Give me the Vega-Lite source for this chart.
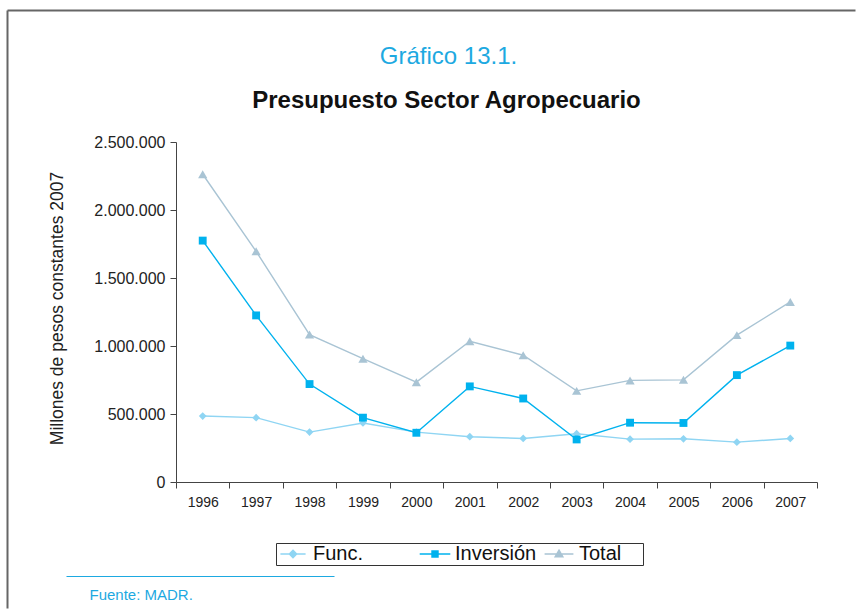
{
  "$schema": "https://vega.github.io/schema/vega-lite/v6.json",
  "width": 641,
  "height": 340,
  "autosize": {"type": "pad"},
  "padding": {"left": 7, "top": 10, "right": 0, "bottom": 0},
  "background": "white",
  "config": {
    "view": {"stroke": null},
    "font": "Liberation Sans",
    "locale": {"number": {"decimal": ",", "thousands": ".", "grouping": [3], "currency": ["$", ""]}}
  },
  "data": {"values": [
    {"year": "1996", "serie": "Func.", "value": 485000},
    {"year": "1997", "serie": "Func.", "value": 473000},
    {"year": "1998", "serie": "Func.", "value": 367000},
    {"year": "1999", "serie": "Func.", "value": 434000},
    {"year": "2000", "serie": "Func.", "value": 367000},
    {"year": "2001", "serie": "Func.", "value": 333000},
    {"year": "2002", "serie": "Func.", "value": 320000},
    {"year": "2003", "serie": "Func.", "value": 355000},
    {"year": "2004", "serie": "Func.", "value": 315000},
    {"year": "2005", "serie": "Func.", "value": 318000},
    {"year": "2006", "serie": "Func.", "value": 293000},
    {"year": "2007", "serie": "Func.", "value": 320000},
    {"year": "1996", "serie": "Inversión", "value": 1775000},
    {"year": "1997", "serie": "Inversión", "value": 1225000},
    {"year": "1998", "serie": "Inversión", "value": 720000},
    {"year": "1999", "serie": "Inversión", "value": 473000},
    {"year": "2000", "serie": "Inversión", "value": 362000},
    {"year": "2001", "serie": "Inversión", "value": 703000},
    {"year": "2002", "serie": "Inversión", "value": 614000},
    {"year": "2003", "serie": "Inversión", "value": 313000},
    {"year": "2004", "serie": "Inversión", "value": 436000},
    {"year": "2005", "serie": "Inversión", "value": 434000},
    {"year": "2006", "serie": "Inversión", "value": 786000},
    {"year": "2007", "serie": "Inversión", "value": 1003000},
    {"year": "1996", "serie": "Total", "value": 2263000},
    {"year": "1997", "serie": "Total", "value": 1696000},
    {"year": "1998", "serie": "Total", "value": 1084000},
    {"year": "1999", "serie": "Total", "value": 907000},
    {"year": "2000", "serie": "Total", "value": 734000},
    {"year": "2001", "serie": "Total", "value": 1035000},
    {"year": "2002", "serie": "Total", "value": 932000},
    {"year": "2003", "serie": "Total", "value": 670000},
    {"year": "2004", "serie": "Total", "value": 747000},
    {"year": "2005", "serie": "Total", "value": 751000},
    {"year": "2006", "serie": "Total", "value": 1080000},
    {"year": "2007", "serie": "Total", "value": 1324000}
  ]},
  "layer": [
    {
      "encoding": {
        "x": {
          "field": "year", "type": "ordinal",
          "scale": {"type": "band", "paddingInner": 0, "paddingOuter": 0},
          "axis": {
            "orient": "bottom", "title": null, "labelAngle": 0,
            "tickBand": "extent", "tickSize": 6, "labelPadding": 7,
            "domainColor": "#444", "tickColor": "#444", "domainWidth": 1,
            "labelFont": "Liberation Sans", "labelFontSize": 14, "labelColor": "#222",
            "grid": false
          }
        },
        "y": {
          "field": "value", "type": "quantitative",
          "scale": {"domain": [0, 2500000], "nice": false},
          "axis": {
            "values": [0, 500000, 1000000, 1500000, 2000000, 2500000],
            "format": ",d", "grid": false, "tickSize": 6, "labelPadding": 5,
            "domainColor": "#444", "tickColor": "#444",
            "labelFontSize": 16, "labelColor": "#222",
            "title": "Millones de pesos constantes 2007",
            "titleFontSize": 17.5, "titleFontWeight": "normal", "titleColor": "#222",
            "titleAngle": -90, "titleX": -114, "titleY": 166,
            "titleAlign": "center", "titleBaseline": "alphabetic"
          }
        },
        "color": {
          "field": "serie", "type": "nominal",
          "scale": {"domain": ["Func.", "Inversión", "Total"], "range": ["#8fd5f3", "#00b2ee", "#a9c4d4"]},
          "legend": {
            "orient": "none", "legendX": 100, "legendY": 401,
            "direction": "horizontal", "title": null,
            "strokeColor": "#333", "padding": 1,
            "labelFontSize": 20, "labelColor": "#111", "labelOffset": 10,
            "columnPadding": 4, "symbolOffset": 6, "symbolSize": 324, "symbolStrokeWidth": 1.5,
            "labelExpr": "datum.label == 'Func.' ? 'Func.\u00a0\u00a0\u00a0\u00a0\u00a0\u00a0\u2800' : datum.label == 'Total' ? 'Total\u00a0\u2800' : datum.label",
            "encode": {
              "symbols": {
                "update": {
                  "shape": {"signal": "datum.value == 'Func.' ? 'M-1.4,0H1.4M0,-0.4L0.4,0L0,0.4L-0.4,0Z' : datum.value == 'Inversión' ? 'M-1.7,0H1.7M-0.33,-0.33H0.33V0.33H-0.33Z' : 'M-1.6,0H1.6M0,-0.42L0.42,0.3H-0.42Z'"},
                  "fill": {"signal": "scale('color', datum.value)"},
                  "stroke": {"signal": "scale('color', datum.value)"},
                  "strokeWidth": {"value": 1.5},
                  "opacity": {"value": 1}
                }
              }
            }
          }
        }
      },
      "layer": [
        {"mark": {"type": "line", "strokeWidth": 1.4}},
        {
          "transform": [{"filter": "datum.serie == 'Func.'"}],
          "mark": {"type": "point", "filled": true, "opacity": 1, "shape": "diamond", "size": 60}
        },
        {
          "transform": [{"filter": "datum.serie == 'Inversión'"}],
          "mark": {"type": "point", "filled": true, "opacity": 1, "shape": "square", "size": 62}
        },
        {
          "transform": [{"filter": "datum.serie == 'Total'"}],
          "mark": {"type": "point", "filled": true, "opacity": 1, "shape": "triangle-up", "size": 85}
        }
      ]
    },
    {
      "data": {"values": [{}]},
      "mark": {"type": "point", "opacity": 0},
      "encoding": {
        "x": {
          "datum": 0.5, "type": "quantitative",
          "scale": {"domain": [0, 1], "range": [-169, 679], "nice": false, "zero": false},
          "axis": {
            "orient": "top", "offset": 132, "domainColor": "#666", "domainWidth": 2,
            "ticks": false, "labels": false, "grid": false,
            "title": "Gráfico 13.1.", "titleX": 272, "titleY": 53,
            "titleAlign": "center", "titleBaseline": "alphabetic", "titleAngle": 0,
            "titleFontSize": 24, "titleFontWeight": "normal", "titleColor": "#1da9e1"
          }
        },
        "y": {
          "datum": 0.5, "type": "quantitative",
          "scale": {"domain": [0, 1], "range": [466, -132], "nice": false, "zero": false},
          "axis": {
            "orient": "left", "offset": 169, "domainColor": "#666", "domainWidth": 2,
            "ticks": false, "labels": false, "grid": false,
            "title": "Presupuesto Sector Agropecuario", "titleX": 439, "titleY": -35,
            "titleAlign": "center", "titleBaseline": "alphabetic", "titleAngle": 0,
            "titleFontSize": 24, "titleFontWeight": "bold", "titleColor": "#111"
          }
        }
      }
    },
    {
      "data": {"values": [{}]},
      "mark": {"type": "point", "opacity": 0},
      "encoding": {
        "x": {
          "datum": 0.5, "type": "quantitative",
          "scale": {"domain": [0, 1], "range": [-110, 158], "nice": false, "zero": false},
          "axis": {
            "orient": "bottom", "offset": 94, "domainColor": "#1da9e1", "domainWidth": 1,
            "ticks": false, "labels": false, "grid": false,
            "title": "Fuente: MADR.", "titleX": -87, "titleY": 23,
            "titleAlign": "left", "titleBaseline": "alphabetic", "titleAngle": 0,
            "titleFontSize": 15, "titleFontWeight": "normal", "titleColor": "#1da9e1"
          }
        }
      }
    }
  ],
  "resolve": {"scale": {"x": "independent", "y": "independent"}}
}
